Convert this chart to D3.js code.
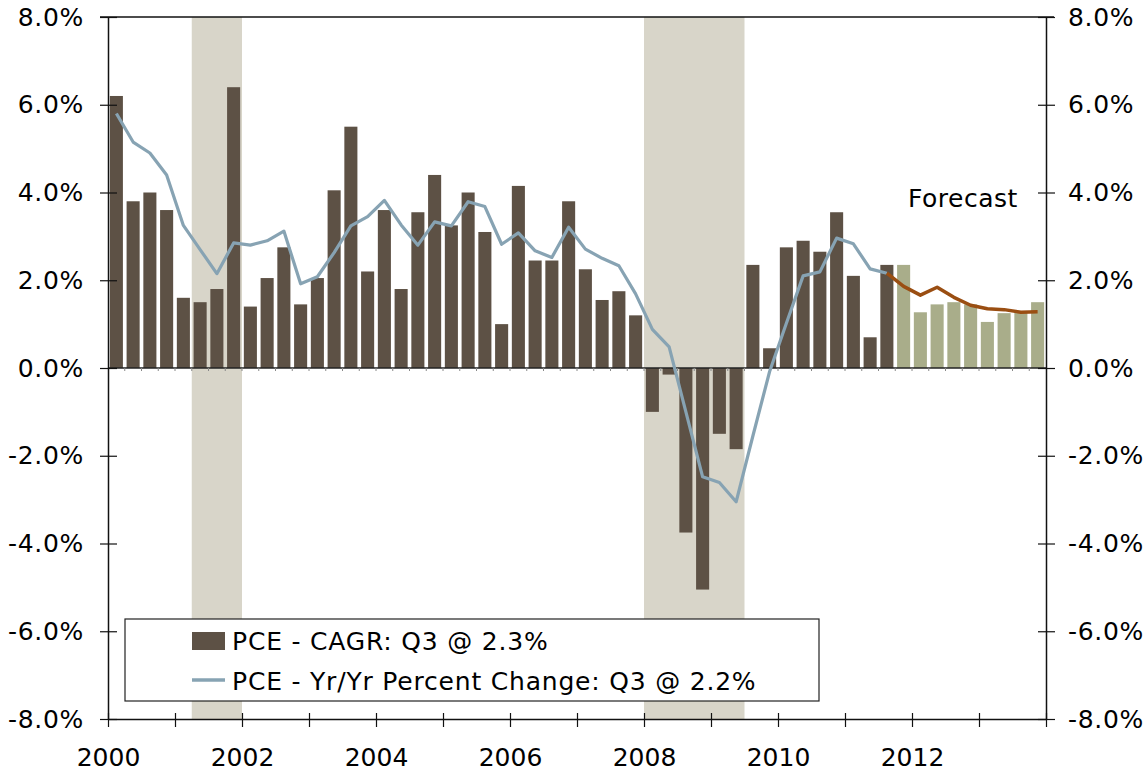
<!DOCTYPE html>
<html>
<head>
<meta charset="utf-8">
<script src="https://cdn.jsdelivr.net/npm/d3@7"></script>
<style>
  body { margin: 0; background: #fff; }
  text { font-family: "DejaVu Sans", Verdana, sans-serif; fill: #000; }
</style>
</head>
<body>
<svg id="chart" width="1147" height="772"></svg>
<script>
// quarterly, 2000 Q1 .. 2013 Q4
var cagr = [
  6.2, 3.8, 4.0, 3.6,
  1.6, 1.5, 1.8, 6.4,
  1.4, 2.05, 2.75, 1.45,
  2.05, 4.05, 5.5, 2.2,
  3.6, 1.8, 3.55, 4.4,
  3.25, 4.0, 3.1, 1.0,
  4.15, 2.45, 2.45, 3.8,
  2.25, 1.55, 1.75, 1.2,
  -1.0, -0.15, -3.75, -5.05,
  -1.5, -1.85, 2.35, 0.45,
  2.75, 2.9, 2.65, 3.55,
  2.1, 0.7, 2.35, 2.35,
  1.27, 1.45, 1.5, 1.45,
  1.05, 1.25, 1.3, 1.5
]
var firstForecast = 47

var yoy = [
  5.8, 5.15, 4.9, 4.4, 3.25, 2.7, 2.15, 2.85, 2.8, 2.9, 3.12, 1.92,
  2.08, 2.63, 3.24, 3.45, 3.82, 3.26, 2.8, 3.33, 3.24, 3.79, 3.68, 2.82,
  3.08, 2.67, 2.52, 3.21, 2.71, 2.5, 2.33, 1.69, 0.88, 0.48, -1.0, -2.48,
  -2.61, -3.05, -1.55, -0.08, 1.02, 2.1, 2.19, 2.96, 2.83, 2.26, 2.16
]
// forecast yr/yr, starts at quarter index 46
var yoyForecast = [2.16, 1.86, 1.66, 1.84, 1.61, 1.43, 1.35, 1.33, 1.27, 1.28]

// recessions as [first quarter index, last quarter index + 1]
var recessions = [[5, 8], [32, 38]]

var yTicks = [-8, -6, -4, -2, 0, 2, 4, 6, 8]
var yearLabels = [2000, 2002, 2004, 2006, 2008, 2010, 2012]
var legendLabels = ['PCE - CAGR: Q3 @ 2.3%', 'PCE - Yr/Yr Percent Change: Q3 @ 2.2%']

var pl = 108, pr = 1046, pt = 17, pb = 719

var svg = d3.select('#chart')

var x = d3.scaleBand()
    .domain(d3.range(cagr.length))
    .range([pl, pr])
    .paddingInner(0.22)
    .paddingOuter(0.11)

var xYear = d3.scaleLinear().domain([2000, 2014]).range([pl, pr])

var y = d3.scaleLinear().domain([-8, 8]).range([pb, pt])

var cx = function (i) { return x(i) + x.bandwidth() / 2 }

// recession shading
svg.selectAll('.rec')
    .data(recessions)
    .enter()
    .append('rect')
    .attr('x', d => pl + d[0] * x.step())
    .attr('width', d => (d[1] - d[0]) * x.step())
    .attr('y', pt)
    .attr('height', pb - pt)
    .attr('fill', '#d8d5c9')

// bars
svg.selectAll('.bar')
    .data(cagr)
    .enter()
    .append('rect')
    .attr('x', (d, i) => x(i))
    .attr('width', x.bandwidth())
    .attr('y', d => y(Math.max(0, d)))
    .attr('height', d => Math.abs(y(d) - y(0)))
    .attr('fill', (d, i) => i >= firstForecast ? '#a9ad8a' : '#5d5145')

// zero line + small quarter ticks
svg.append('line')
    .attr('x1', pl).attr('x2', pr)
    .attr('y1', y(0)).attr('y2', y(0))
    .attr('stroke', '#222').attr('stroke-width', 1.5)

svg.selectAll('.qtick')
    .data(d3.range(1, cagr.length))
    .enter()
    .append('line')
    .attr('x1', d => pl + d * x.step()).attr('x2', d => pl + d * x.step())
    .attr('y1', y(0)).attr('y2', y(0) + 3)
    .attr('stroke', '#888').attr('stroke-width', 1)

// lines
var line = d3.line()
    .x(d => cx(d.i))
    .y(d => y(d.v))

svg.append('path')
    .datum(yoy.map((v, i) => ({i: i, v: v})))
    .attr('d', line)
    .attr('fill', 'none')
    .attr('stroke', '#87a3b3')
    .attr('stroke-width', 3.2)
    .attr('stroke-linejoin', 'round')

svg.append('path')
    .datum(yoyForecast.map((v, i) => ({i: i + 46, v: v})))
    .attr('d', line)
    .attr('fill', 'none')
    .attr('stroke', '#9a4e12')
    .attr('stroke-width', 3.5)
    .attr('stroke-linejoin', 'round')

// frame: top line, left / right / bottom axes
svg.append('line')
    .attr('x1', 100).attr('x2', 1054)
    .attr('y1', pt).attr('y2', pt)
    .attr('stroke', '#111').attr('stroke-width', 1.5)

var leftAxis = d3.axisLeft(y).tickValues(yTicks).tickSize(0).tickFormat(d => d.toFixed(1) + '%')
var gl = svg.append('g').attr('transform', 'translate(' + pl + ',0)').call(leftAxis)
gl.select('.domain').attr('stroke', '#111').attr('stroke-width', 1.5)
gl.selectAll('.tick text')
    .attr('x', -24)
    .style('font-family', '"DejaVu Sans", Verdana, sans-serif')
    .style('font-size', '25px')
    .style('letter-spacing', '0.7px')
    .attr('fill', '#000')
gl.selectAll('.tick').append('line')
    .attr('x1', -8).attr('x2', 9)
    .attr('stroke', '#111').attr('stroke-width', 1.2)

var rightAxis = d3.axisRight(y).tickValues(yTicks).tickSize(0).tickFormat(d => d.toFixed(1) + '%')
var gr = svg.append('g').attr('transform', 'translate(' + pr + ',0)').call(rightAxis)
gr.select('.domain').attr('stroke', '#111').attr('stroke-width', 1.5)
gr.selectAll('.tick text')
    .attr('x', 22)
    .style('font-family', '"DejaVu Sans", Verdana, sans-serif')
    .style('font-size', '25px')
    .style('letter-spacing', '0.7px')
    .attr('fill', '#000')
gr.selectAll('.tick').append('line')
    .attr('x1', -8).attr('x2', 9)
    .attr('stroke', '#111').attr('stroke-width', 1.2)

var bottomAxis = d3.axisBottom(xYear)
    .tickValues(d3.range(2000, 2015))
    .tickSize(0)
    .tickFormat(d => yearLabels.indexOf(d) >= 0 ? d : '')
var gb = svg.append('g').attr('transform', 'translate(0,' + pb + ')').call(bottomAxis)
gb.select('.domain').attr('stroke', '#111').attr('stroke-width', 1.5)
gb.selectAll('.tick text')
    .attr('y', 29)
    .style('font-family', '"DejaVu Sans", Verdana, sans-serif')
    .style('font-size', '25px')
    .attr('fill', '#000')
gb.selectAll('.tick').append('line')
    .attr('y1', -6).attr('y2', 8)
    .attr('stroke', '#111').attr('stroke-width', 1.2)

// forecast label
svg.append('text')
    .attr('x', 908).attr('y', 207)
    .style('font-size', '25px')
    .style('letter-spacing', '0.5px')
    .text('Forecast')

// legend
var lg = svg.append('g')
lg.append('rect')
    .attr('x', 125).attr('y', 619)
    .attr('width', 694).attr('height', 82)
    .attr('fill', '#fff')
    .attr('stroke', '#222').attr('stroke-width', 1.2)

lg.append('rect')
    .attr('x', 192).attr('y', 632)
    .attr('width', 33).attr('height', 18)
    .attr('fill', '#5d5145')
lg.append('line')
    .attr('x1', 192).attr('x2', 225)
    .attr('y1', 680).attr('y2', 680)
    .attr('stroke', '#87a3b3').attr('stroke-width', 3.5)

lg.selectAll('.lt')
    .data(legendLabels)
    .enter()
    .append('text')
    .attr('x', 232)
    .attr('y', (d, i) => 650 + i * 40)
    .style('font-size', '25px')
    .style('letter-spacing', '0.8px')
    .text(d => d)
</script>
</body>
</html>
